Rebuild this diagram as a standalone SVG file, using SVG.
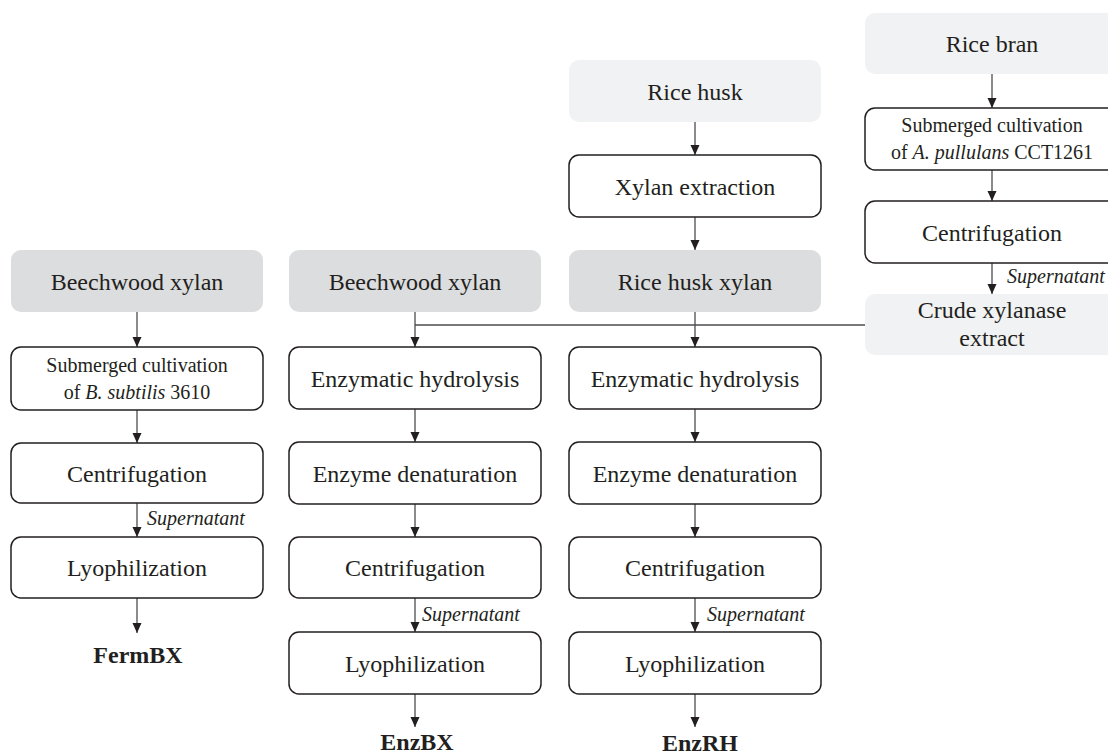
<svg xmlns="http://www.w3.org/2000/svg" width="1108" height="756" viewBox="0 0 1108 756">
<style>
  .box { fill: #ffffff; stroke: #231f20; stroke-width: 1.5; }
  .dark { fill: #dcddde; stroke: none; }
  .light { fill: #f1f2f3; stroke: none; }
  text { font-family: "Liberation Serif", "Times New Roman", serif; fill: #231f20; text-anchor: middle; }
  .t24 { font-size: 24px; }
  .t20 { font-size: 20px; }
  .sup { font-size: 20px; font-style: italic; text-anchor: start; }
  .out { font-size: 24px; font-weight: bold; }
  .it { font-style: italic; }
  .con { stroke: #4d4d4f; stroke-width: 1.3; fill: none; }
</style>
<defs>
  <marker id="arr" viewBox="0 0 10 10" refX="10" refY="5" markerWidth="10" markerHeight="10" markerUnits="userSpaceOnUse" orient="auto">
    <path d="M0,0.5 L10,5 L0,9.5 Z" fill="#231f20"/>
  </marker>
</defs>

<g id="connectors">
  <!-- column 1 -->
  <line class="con" x1="137" y1="312" x2="137" y2="347" marker-end="url(#arr)"/>
  <line class="con" x1="137" y1="410" x2="137" y2="443" marker-end="url(#arr)"/>
  <line class="con" x1="137" y1="503" x2="137" y2="537" marker-end="url(#arr)"/>
  <line class="con" x1="137" y1="598" x2="137" y2="633" marker-end="url(#arr)"/>
  <!-- column 2 -->
  <line class="con" x1="415" y1="312" x2="415" y2="347" marker-end="url(#arr)"/>
  <line class="con" x1="415" y1="409" x2="415" y2="442" marker-end="url(#arr)"/>
  <line class="con" x1="415" y1="504" x2="415" y2="537" marker-end="url(#arr)"/>
  <line class="con" x1="415" y1="598" x2="415" y2="632" marker-end="url(#arr)"/>
  <line class="con" x1="415" y1="694" x2="415" y2="727" marker-end="url(#arr)"/>
  <!-- column 3 -->
  <line class="con" x1="695" y1="122" x2="695" y2="155" marker-end="url(#arr)"/>
  <line class="con" x1="695" y1="217" x2="695" y2="250" marker-end="url(#arr)"/>
  <line class="con" x1="695" y1="312" x2="695" y2="347" marker-end="url(#arr)"/>
  <line class="con" x1="695" y1="409" x2="695" y2="442" marker-end="url(#arr)"/>
  <line class="con" x1="695" y1="504" x2="695" y2="537" marker-end="url(#arr)"/>
  <line class="con" x1="695" y1="598" x2="695" y2="632" marker-end="url(#arr)"/>
  <line class="con" x1="695" y1="694" x2="695" y2="727" marker-end="url(#arr)"/>
  <!-- column 4 -->
  <line class="con" x1="992" y1="74" x2="992" y2="108" marker-end="url(#arr)"/>
  <line class="con" x1="992" y1="170" x2="992" y2="201" marker-end="url(#arr)"/>
  <line class="con" x1="992" y1="263" x2="992" y2="294" marker-end="url(#arr)"/>
  <!-- crude extract feed -->
  <line class="con" x1="415" y1="325" x2="865" y2="325"/>
  <!-- labels -->
  <text class="sup" x="147" y="525">Supernatant</text>
  <text class="sup" x="422" y="621">Supernatant</text>
  <text class="sup" x="707" y="621">Supernatant</text>
  <text class="sup" x="1007" y="283">Supernatant</text>
</g>

<!-- Column 1 -->
<g id="c1-beechwood">
  <rect class="dark" x="11" y="250" width="252" height="62" rx="10"/>
  <text class="t24" x="137" y="289.5">Beechwood xylan</text>
</g>
<g id="c1-cultivation">
  <rect class="box" x="11" y="347" width="252" height="63" rx="10"/>
  <text class="t20" x="137" y="371.5">Submerged cultivation</text>
  <text class="t20" x="137" y="398.5">of <tspan class="it">B. subtilis</tspan> 3610</text>
</g>
<g id="c1-centrifugation">
  <rect class="box" x="11" y="443" width="252" height="60" rx="10"/>
  <text class="t24" x="137" y="481.5">Centrifugation</text>
</g>
<g id="c1-lyophilization">
  <rect class="box" x="11" y="537" width="252" height="61" rx="10"/>
  <text class="t24" x="137" y="576">Lyophilization</text>
</g>
<g id="c1-fermbx">
  <text class="out" x="138" y="663">FermBX</text>
</g>

<!-- Column 2 -->
<g id="c2-beechwood">
  <rect class="dark" x="289" y="250" width="252" height="62" rx="10"/>
  <text class="t24" x="415" y="289.5">Beechwood xylan</text>
</g>
<g id="c2-hydrolysis">
  <rect class="box" x="289" y="347" width="252" height="62" rx="10"/>
  <text class="t24" x="415" y="386.5">Enzymatic hydrolysis</text>
</g>
<g id="c2-denaturation">
  <rect class="box" x="289" y="442" width="252" height="62" rx="10"/>
  <text class="t24" x="415" y="481.5">Enzyme denaturation</text>
</g>
<g id="c2-centrifugation">
  <rect class="box" x="289" y="537" width="252" height="61" rx="10"/>
  <text class="t24" x="415" y="576">Centrifugation</text>
</g>
<g id="c2-lyophilization">
  <rect class="box" x="289" y="632" width="252" height="62" rx="10"/>
  <text class="t24" x="415" y="671.5">Lyophilization</text>
</g>
<g id="c2-enzbx">
  <text class="out" x="417" y="750">EnzBX</text>
</g>

<!-- Column 3 -->
<g id="c3-ricehusk">
  <rect class="light" x="569" y="60" width="252" height="62" rx="10"/>
  <text class="t24" x="695" y="99.5">Rice husk</text>
</g>
<g id="c3-extraction">
  <rect class="box" x="569" y="155" width="252" height="62" rx="10"/>
  <text class="t24" x="695" y="194.5">Xylan extraction</text>
</g>
<g id="c3-ricehuskxylan">
  <rect class="dark" x="569" y="250" width="252" height="62" rx="10"/>
  <text class="t24" x="695" y="289.5">Rice husk xylan</text>
</g>
<g id="c3-hydrolysis">
  <rect class="box" x="569" y="347" width="252" height="62" rx="10"/>
  <text class="t24" x="695" y="386.5">Enzymatic hydrolysis</text>
</g>
<g id="c3-denaturation">
  <rect class="box" x="569" y="442" width="252" height="62" rx="10"/>
  <text class="t24" x="695" y="481.5">Enzyme denaturation</text>
</g>
<g id="c3-centrifugation">
  <rect class="box" x="569" y="537" width="252" height="61" rx="10"/>
  <text class="t24" x="695" y="576">Centrifugation</text>
</g>
<g id="c3-lyophilization">
  <rect class="box" x="569" y="632" width="252" height="62" rx="10"/>
  <text class="t24" x="695" y="671.5">Lyophilization</text>
</g>
<g id="c3-enzrh">
  <text class="out" x="700" y="751">EnzRH</text>
</g>

<!-- Column 4 -->
<g id="c4-ricebran">
  <rect class="light" x="865" y="13" width="254" height="61" rx="10"/>
  <text class="t24" x="992" y="52">Rice bran</text>
</g>
<g id="c4-cultivation">
  <rect class="box" x="865" y="108" width="254" height="62" rx="10"/>
  <text class="t20" x="992" y="132">Submerged cultivation</text>
  <text class="t20" x="992" y="159">of <tspan class="it">A. pullulans</tspan> CCT1261</text>
</g>
<g id="c4-centrifugation">
  <rect class="box" x="865" y="201" width="254" height="62" rx="10"/>
  <text class="t24" x="992" y="240.5">Centrifugation</text>
</g>
<g id="c4-crude">
  <rect class="light" x="865" y="294" width="254" height="61" rx="10"/>
  <text class="t24" x="992" y="318">Crude xylanase</text>
  <text class="t24" x="992" y="346">extract</text>
</g>
</svg>
